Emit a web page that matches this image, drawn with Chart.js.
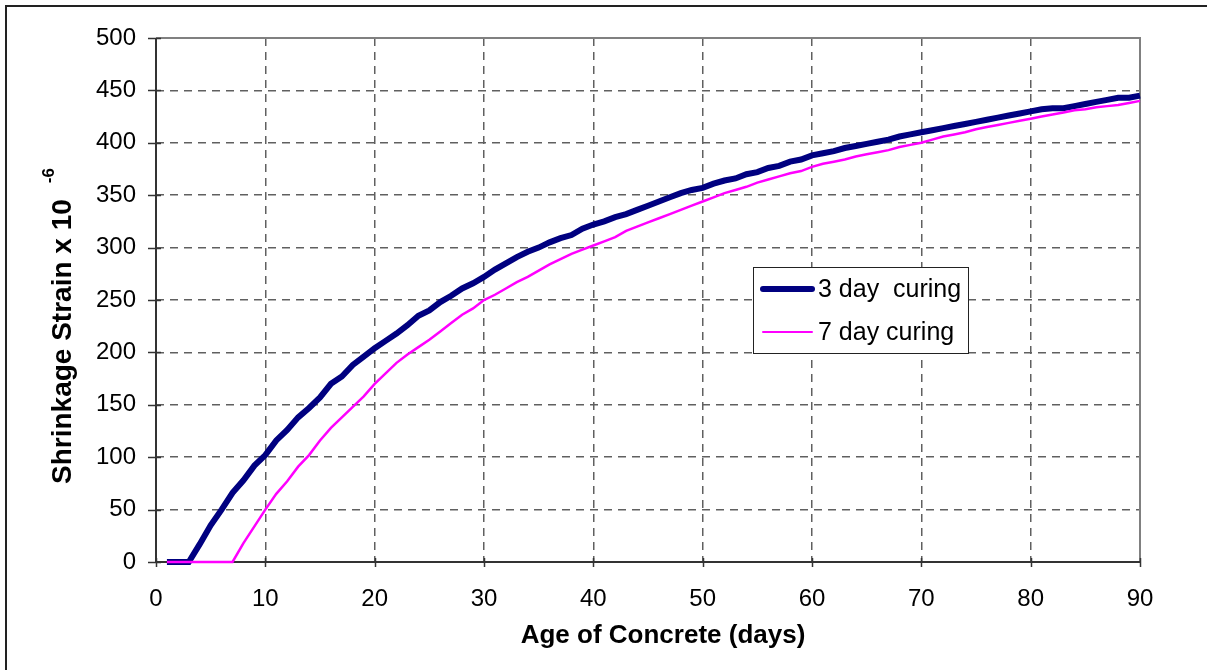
<!DOCTYPE html>
<html>
<head>
<meta charset="utf-8">
<script src="https://cdn.jsdelivr.net/npm/chart.js@4"></script>
<style>
  html, body { margin: 0; padding: 0; background: #fff; }
  #wrap { width: 1207px; height: 670px; }
</style>
</head>
<body>
<div id="wrap"><canvas id="grafico" width="1207" height="670"></canvas></div>
<script>
// datos
const dias = [1,2,3,4,5,6,7,8,9,10,11,12,13,14,15,16,17,18,19,20,
  21,22,23,24,25,26,27,28,29,30,31,32,33,34,35,36,37,38,39,40,
  41,42,43,44,45,46,47,48,49,50,51,52,53,54,55,56,57,58,59,60,
  61,62,63,64,65,66,67,68,69,70,71,72,73,74,75,76,77,78,79,80,
  81,82,83,84,85,86,87,88,89,90];

const curado3 = [0,0,0,17,35,50,66,78,92,102,116,126,138,147,157,170,177,188,196,204,
  211,218,226,235,240,248,254,261,266,272,279,285,291,296,300,305,309,312,318,322,
  325,329,332,336,340,344,348,352,355,357,361,364,366,370,372,376,378,382,384,388,
  390,392,395,397,399,401,403,406,408,410,412,414,416,418,420,422,424,426,428,430,
  432,433,433,435,437,439,441,443,443,445];

const curado7 = [0,0,0,0,0,0,0,18,34,50,65,77,91,102,116,128,138,148,158,170,
  180,190,198,205,212,220,228,236,242,250,255,261,267,272,278,284,289,294,298,302,
  306,310,316,320,324,328,332,336,340,344,348,352,355,358,362,365,368,371,373,377,
  380,382,384,387,389,391,393,396,398,400,403,406,408,410,413,415,417,419,421,423,
  425,427,429,431,432,434,435,436,438,440];

const ticksX = [0,10,20,30,40,50,60,70,80,90];
const ticksY = [0,50,100,150,200,250,300,350,400,450,500];

const etiquetas = ['3 day  curing', '7 day curing'];
const colores = ['#000080', '#FF00FF'];

const fuente = 'Arial, "Liberation Sans", sans-serif';

// marco, ejes, marcas, titulos y leyenda
const extras = {
    id: 'extras',
    beforeDraw(chart) {
        const ctx = chart.ctx;
        ctx.save();
        ctx.fillStyle = '#fff';
        ctx.fillRect(0, 0, chart.width, chart.height);
        // marco exterior (solo arriba e izquierda visibles)
        ctx.strokeStyle = '#222';
        ctx.lineWidth = 2;
        ctx.beginPath();
        ctx.moveTo(6, chart.height);
        ctx.lineTo(6, 6);
        ctx.lineTo(chart.width, 6);
        ctx.stroke();
        ctx.restore();
    },
    beforeDatasetsDraw(chart) {
        const ctx = chart.ctx;
        const a = chart.chartArea;
        const xs = chart.scales.x, ys = chart.scales.y;
        ctx.save();
        // borde gris arriba y derecha
        ctx.strokeStyle = '#808080';
        ctx.lineWidth = 2;
        ctx.beginPath();
        ctx.moveTo(a.left, a.top);
        ctx.lineTo(a.right, a.top);
        ctx.lineTo(a.right, a.bottom);
        ctx.stroke();
        // ejes oscuros
        ctx.strokeStyle = '#333';
        ctx.lineWidth = 2;
        ctx.beginPath();
        ctx.moveTo(a.left, a.top);
        ctx.lineTo(a.left, a.bottom);
        ctx.lineTo(a.right, a.bottom);
        ctx.stroke();
        // marcas cruzadas
        ctx.lineWidth = 1.5;
        ticksY.forEach(v => {
            const y = Math.round(ys.getPixelForValue(v)) + 0.5;
            ctx.beginPath();
            ctx.moveTo(a.left - 8, y);
            ctx.lineTo(a.left + 5, y);
            ctx.stroke();
        });
        ticksX.forEach(v => {
            const x = Math.round(xs.getPixelForValue(v)) + 0.5;
            ctx.beginPath();
            ctx.moveTo(x, a.bottom - 4);
            ctx.lineTo(x, a.bottom + 5);
            ctx.stroke();
        });
        ctx.restore();
    },
    afterDraw(chart) {
        const ctx = chart.ctx;
        ctx.save();
        ctx.fillStyle = '#000';
        // titulo eje x
        ctx.font = 'bold 26px ' + fuente;
        ctx.textAlign = 'center';
        ctx.textBaseline = 'alphabetic';
        ctx.fillText('Age of Concrete (days)', 663, 643);
        // titulo eje y con exponente
        ctx.font = 'bold 28px ' + fuente;
        ctx.translate(71, 484);
        ctx.rotate(-Math.PI / 2);
        ctx.textAlign = 'left';
        const t = 'Shrinkage Strain x 10';
        ctx.fillText(t, 0, 0);
        const w = ctx.measureText(t).width;
        ctx.font = 'bold 17px ' + fuente;
        ctx.fillText('-6', w + 16, -17);
        ctx.restore();

        // leyenda
        ctx.save();
        ctx.fillStyle = '#fff';
        ctx.fillRect(753, 267, 215, 86);
        ctx.strokeStyle = '#222';
        ctx.lineWidth = 1;
        ctx.strokeRect(753.5, 267.5, 215, 86);
        const filas = [289, 332];
        const anchos = [6, 2];
        ctx.lineCap = 'round';
        filas.forEach((y, i) => {
            ctx.strokeStyle = colores[i];
            ctx.lineWidth = anchos[i];
            ctx.beginPath();
            ctx.moveTo(763, y);
            ctx.lineTo(812, y);
            ctx.stroke();
            ctx.fillStyle = '#000';
            ctx.font = '25px ' + fuente;
            ctx.textAlign = 'left';
            ctx.textBaseline = 'middle';
            ctx.fillText(etiquetas[i], 818, y + 1);
        });
        ctx.restore();
    }
};

const ctx = document.getElementById('grafico').getContext('2d');

const grafico = new Chart(ctx, {
    type: 'line',
    data: {
        datasets: [
            {
                label: etiquetas[0],
                data: dias.map((d, i) => ({ x: d, y: curado3[i] })),
                borderColor: colores[0],
                borderWidth: 6,
                pointRadius: 0,
                tension: 0,
                fill: false,
                clip: false,
                order: 1
            },
            {
                label: etiquetas[1],
                data: dias.map((d, i) => ({ x: d, y: curado7[i] })),
                borderColor: colores[1],
                borderWidth: 2.5,
                pointRadius: 0,
                tension: 0,
                fill: false,
                clip: false,
                order: 0
            }
        ]
    },
    options: {
        responsive: false,
        animation: false,
        devicePixelRatio: 1,
        layout: {
            padding: { left: 0, right: 67, top: 38, bottom: 0 }
        },
        plugins: {
            legend: { display: false },
            tooltip: { enabled: false },
            title: { display: false }
        },
        scales: {
            x: {
                type: 'linear',
                min: 0,
                max: 90,
                afterFit: s => { s.height = 108; },
                afterBuildTicks: s => { s.ticks = ticksX.map(v => ({ value: v })); },
                ticks: {
                    color: '#000',
                    font: { family: fuente, size: 24 },
                    padding: 23,
                    maxRotation: 0
                },
                grid: {
                    drawTicks: false,
                    color: c => (c.tick && (c.tick.value === 0 || c.tick.value === 90)) ? 'rgba(0,0,0,0)' : '#606060',
                    lineWidth: 1.5
                },
                border: { display: false, dash: [8, 6] }
            },
            y: {
                min: 0,
                max: 500,
                afterFit: s => { s.width = 156; },
                afterBuildTicks: s => { s.ticks = ticksY.map(v => ({ value: v })); },
                ticks: {
                    color: '#000',
                    font: { family: fuente, size: 24 },
                    padding: 20
                },
                grid: {
                    drawTicks: false,
                    color: c => (c.tick && (c.tick.value === 0 || c.tick.value === 500)) ? 'rgba(0,0,0,0)' : '#606060',
                    lineWidth: 1.5
                },
                border: { display: false, dash: [8, 6] }
            }
        }
    },
    plugins: [extras]
});
</script>
</body>
</html>
